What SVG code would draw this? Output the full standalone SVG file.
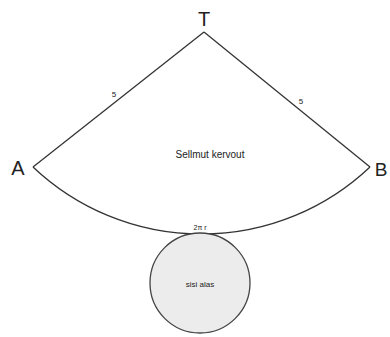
<svg xmlns="http://www.w3.org/2000/svg" width="390" height="337" viewBox="0 0 390 337">
<style>
.ln{fill:none;stroke:#333;stroke-width:1.3}
.lbl{font-family:"Liberation Sans",Arial,sans-serif;fill:#222}
</style>
<rect width="390" height="337" fill="#fff"/>
<g id="connectors">
<path class="ln" d="M204,32 L33,167"/>
<path class="ln" d="M204,32 L370,167"/>
<path class="ln" d="M33,167 A245,245 0 0 0 370,167"/>
</g>
<g id="T"><text class="lbl" x="204" y="26" font-size="20" text-anchor="middle">T</text></g>
<g id="A"><text class="lbl" x="18" y="175" font-size="20" text-anchor="middle">A</text></g>
<g id="B"><text class="lbl" x="381" y="176" font-size="19" text-anchor="middle">B</text></g>
<g id="s1"><text class="lbl" x="114" y="97" font-size="8" text-anchor="middle">5</text></g>
<g id="s2"><text class="lbl" x="301" y="104" font-size="8" text-anchor="middle">5</text></g>
<g id="sector"><text class="lbl" x="210" y="158" font-size="10" text-anchor="middle">Sellmut kervout</text></g>
<g id="arc"><text class="lbl" x="200" y="230" font-size="7" text-anchor="middle">2π r</text></g>
<g id="base">
<circle cx="200" cy="283" r="50" fill="#ececec" stroke="#444" stroke-width="1.3"/>
<text class="lbl" x="200" y="287" font-size="8" text-anchor="middle">sisi alas</text>
</g>
</svg>
